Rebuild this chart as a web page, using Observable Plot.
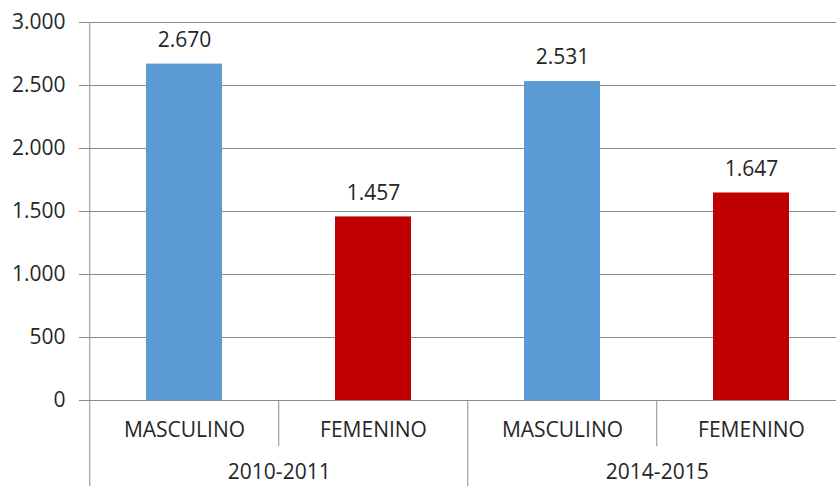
<!DOCTYPE html>
<html>
<head>
<meta charset="utf-8">
<script src="https://cdn.jsdelivr.net/npm/d3@7"></script>
<script src="https://cdn.jsdelivr.net/npm/@observablehq/plot@0.6"></script>
<style>
  html, body { margin: 0; padding: 0; background: #fff; }
</style>
</head>
<body>
<div id="chart"></div>
<script>
const periods = ["2010-2011", "2010-2011", "2014-2015", "2014-2015"];
const sexes = ["MASCULINO", "FEMENINO", "MASCULINO", "FEMENINO"];
const values = [2670, 1457, 2531, 1647];
const colors = ["#5B9BD5", "#C00000", "#5B9BD5", "#C00000"];
const yTicks = [0, 500, 1000, 1500, 2000, 2500, 3000];

const es = d3.formatLocale({decimal: ",", thousands: ".", grouping: [3], currency: ["", ""]});
const fmt = es.format(",d");

const data = periods.map((p, i) => ({
  key: p + " " + sexes[i],
  period: p,
  sex: sexes[i],
  value: values[i],
  color: colors[i],
  index: i
}));
const keys = data.map(d => d.key);

const xRange = [88, 846];
const step = (xRange[1] - xRange[0]) / keys.length;

const gridColor = "#8c8c8c";
const textColor = "#262626";
const fs = 21;

// separator lines: left boundary of each category
const seps = data.map(d => ({key: d.key, long: d.index % 2 === 0}));
const groups = data.filter(d => d.index % 2 === 0);

const chart = Plot.plot({
  width: 836,
  height: 486,
  marginLeft: 88,
  marginRight: 0,
  marginTop: 22,
  marginBottom: 0,
  style: {fontFamily: "Open Sans", fontSize: fs + "px", color: textColor, background: "#fff"},
  x: {type: "band", domain: keys, range: xRange, paddingInner: 0.6, paddingOuter: 0.3, axis: null},
  y: {domain: [0, 3000], range: [400, 22], ticks: yTicks, label: null},
  marks: [
    Plot.gridY(yTicks, {stroke: gridColor, strokeOpacity: 1}),
    Plot.axisY(yTicks, {tickSize: 9, tickPadding: 14, tickFormat: fmt, label: null, stroke: gridColor, strokeOpacity: 1, fill: textColor, fontSize: fs}),
    Plot.barY(data, {x: "key", y: "value", fill: "color"}),
    Plot.text(data, {x: "key", y: "value", text: d => fmt(d.value), dy: -24, fill: textColor, fontSize: fs}),
    // y axis line
    Plot.ruleX(seps.filter(d => d.key === keys[0]), {x: "key", dx: -step / 2, stroke: gridColor}),
    // long separators at group boundary
    Plot.ruleX(seps.filter(d => d.long && d.key !== keys[0]), {x: "key", y1: d => 0, y2: d => 0, insetBottom: -86, dx: -step / 2, stroke: gridColor}),
    // short separators between categories
    Plot.ruleX(seps.filter(d => !d.long), {x: "key", y1: d => 0, y2: d => 0, insetBottom: -46, dx: -step / 2, stroke: gridColor}),
    // category labels
    Plot.text(data, {x: "key", y: d => 0, text: "sex", dy: 30, fill: textColor, fontSize: fs}),
    // group labels
    Plot.text(groups, {x: "key", y: d => 0, text: "period", dx: step / 2, dy: 72, fill: textColor, fontSize: fs})
  ]
});

document.getElementById("chart").appendChild(chart);
</script>
</body>
</html>
